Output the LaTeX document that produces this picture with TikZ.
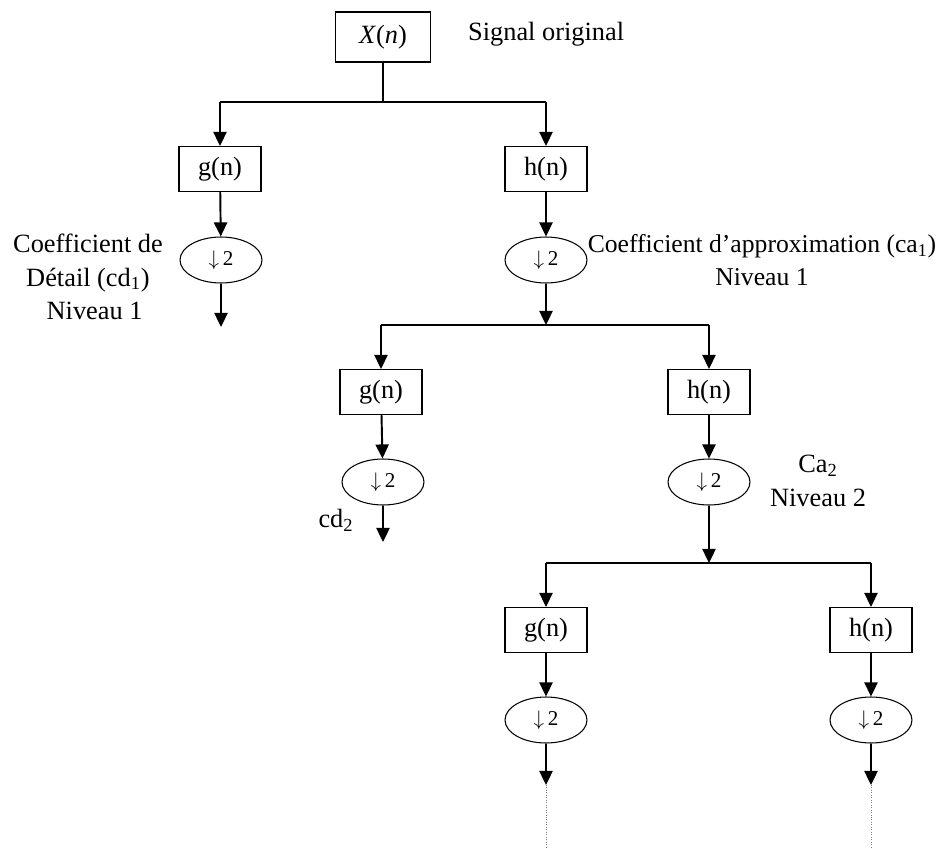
\documentclass[tikz,border=0pt]{standalone}
\usepackage{fontspec}
\setmainfont{Liberation Serif}
\usetikzlibrary{arrows.meta,shapes.geometric}

\begin{document}
\begin{tikzpicture}[x=0.02cm,y=-0.02cm,
	font=\fontsize{15}{19}\selectfont,
	fleche/.style={-{Triangle[length=8pt,width=7.5pt]},line width=1.1pt},
	trait/.style={line width=0.6pt},
	filtre/.style={draw,line width=0.6pt,minimum width=1.64cm,minimum height=0.9cm,inner sep=0pt},
	decim/.style={draw,ellipse,line width=0.6pt,minimum width=1.64cm,minimum height=0.92cm,inner sep=0pt,font=\fontsize{12}{14}\selectfont}]
					\useasboundingbox (0,0) rectangle (941,849);
					
					%SIGNAL
					\node[filtre,minimum width=1.9cm,minimum height=1cm] (X) at (383,37) {\textit{X}(\textit{n})};
					\node[right] (sig) at (462,34) {Signal original};
					
					%NIVEAU 1
					\coordinate (s0) at (383,102);
					\coordinate (s0g) at (220,102);
					\coordinate (s0h) at (546,102);
					\node[filtre] (g1) at (220,169) {g(n)};
					\node[filtre] (h1) at (546,169) {h(n)};
					\node[decim] (d1g) at (221,260) {$\downarrow$\,2};
					\node[decim] (d1h) at (546,260) {$\downarrow$\,2};
					\coordinate (e1g) at (221,327);
					\node[align=center] (cd1) at (88,277) {Coefficient de\\ Détail (cd\textsubscript{1})\\ \ \ Niveau 1};
					\node[align=center,inner sep=0pt,font=\fontsize{14.6}{19}\selectfont] (ca1) at (762,260) {Coefficient d’approximation (ca\textsubscript{1})\\ Niveau 1};
					
					\draw[trait] (X) -- (s0);
					\draw[trait] (s0g) -- (s0h);
					\draw[fleche] (s0g) -- (g1);
					\draw[fleche] (s0h) -- (h1);
					\draw[fleche] (g1) -- (d1g);
					\draw[fleche] (h1) -- (d1h);
					\draw[fleche] (d1g) -- (e1g);
					
					%NIVEAU 2
					\coordinate (s1) at (546,325);
					\coordinate (s1g) at (381,325);
					\coordinate (s1h) at (709,325);
					\node[filtre] (g2) at (381,392) {g(n)};
					\node[filtre] (h2) at (709,392) {h(n)};
					\node[decim] (d2g) at (383,482) {$\downarrow$\,2};
					\node[decim] (d2h) at (709,482) {$\downarrow$\,2};
					\coordinate (e2g) at (383,542);
					\node (cd2) at (336,520) {cd\textsubscript{2}};
					\node[align=center,inner sep=0pt] (ca2) at (818,481) {Ca\textsubscript{2}\\ Niveau 2};
					
					\draw[fleche] (d1h) -- (s1);
					\draw[trait] (s1g) -- (s1h);
					\draw[fleche] (s1g) -- (g2);
					\draw[fleche] (s1h) -- (h2);
					\draw[fleche] (g2) -- (d2g);
					\draw[fleche] (h2) -- (d2h);
					\draw[fleche] (d2g) -- (e2g);
					
					%NIVEAU 3
					\coordinate (s2) at (709,563);
					\coordinate (s2g) at (546,563);
					\coordinate (s2h) at (871,563);
					\node[filtre] (g3) at (546,630) {g(n)};
					\node[filtre] (h3) at (871,630) {h(n)};
					\node[decim] (d3g) at (546,720) {$\downarrow$\,2};
					\node[decim] (d3h) at (871,720) {$\downarrow$\,2};
					\coordinate (e3g) at (546,785);
					\coordinate (e3h) at (871,785);
					\coordinate (f3g) at (546,849);
					\coordinate (f3h) at (871,849);
					
					\draw[fleche] (d2h) -- (s2);
					\draw[trait] (s2g) -- (s2h);
					\draw[fleche] (s2g) -- (g3);
					\draw[fleche] (s2h) -- (h3);
					\draw[fleche] (g3) -- (d3g);
					\draw[fleche] (h3) -- (d3h);
					\draw[fleche] (d3g) -- (e3g);
					\draw[fleche] (d3h) -- (e3h);
					\draw[densely dotted,gray] (e3g) -- (f3g);
					\draw[densely dotted,gray] (e3h) -- (f3h);
				  \end{tikzpicture}
\end{document}
